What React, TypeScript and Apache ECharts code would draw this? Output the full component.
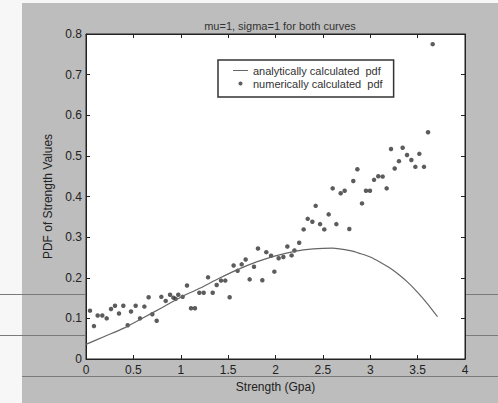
import React, { useEffect, useRef } from "react";
import * as echarts from "echarts";

const titleText = "mu=1, sigma=1 for both curves";
const xAxisName = "Strength (Gpa)";
const yAxisName = "PDF of Strength Values";
const seriesNames = ["analytically calculated  pdf", "numerically calculated  pdf"];

const xMin = 0;
const xMax = 4;
const xStep = 0.5;
const yMin = 0;
const yMax = 0.8;
const yStep = 0.1;

// analytic pdf curve
const curveX = [0, 0.2, 0.4, 0.6, 0.8, 1.0, 1.2, 1.4, 1.6, 1.8, 2.0, 2.2, 2.4, 2.6, 2.8, 2.9, 3.0, 3.1, 3.2, 3.3, 3.4, 3.5, 3.6, 3.71];
const curveY = [0.036, 0.056, 0.076, 0.101, 0.126, 0.152, 0.174, 0.198, 0.22, 0.239, 0.254, 0.265, 0.271, 0.273, 0.266, 0.259, 0.251, 0.239, 0.225, 0.208, 0.188, 0.164, 0.137, 0.104];

// numerically calculated pdf points
const scatterX = [
  0.042, 0.084, 0.123, 0.172, 0.218, 0.264, 0.306, 0.348, 0.394, 0.44,
  0.475, 0.524, 0.57, 0.616, 0.661, 0.7, 0.746, 0.795, 0.841, 0.887,
  0.922, 0.946, 0.974, 1.02, 1.066, 1.108, 1.15, 1.196, 1.242, 1.288,
  1.337, 1.379, 1.425, 1.47, 1.516, 1.558, 1.6, 1.643, 1.685, 1.727,
  1.773, 1.815, 1.861, 1.903, 1.953, 1.988, 2.033, 2.083, 2.125, 2.17,
  2.2, 2.25, 2.297, 2.34, 2.389, 2.424, 2.47, 2.515, 2.561, 2.603,
  2.642, 2.688, 2.73, 2.779, 2.821, 2.864, 2.913, 2.955, 2.997, 3.04,
  3.085, 3.131, 3.173, 3.219, 3.258, 3.303, 3.342, 3.388, 3.434, 3.476,
  3.518, 3.567, 3.61, 3.659,
];
const scatterY = [
  0.119, 0.081, 0.107, 0.107, 0.1, 0.123, 0.131, 0.112, 0.131, 0.083,
  0.117, 0.131, 0.1, 0.129, 0.152, 0.11, 0.094, 0.153, 0.143, 0.158,
  0.151, 0.148, 0.158, 0.153, 0.181, 0.125, 0.125, 0.163, 0.163, 0.201,
  0.163, 0.182, 0.193, 0.193, 0.152, 0.23, 0.217, 0.233, 0.245, 0.196,
  0.227, 0.272, 0.194, 0.263, 0.254, 0.215, 0.248, 0.251, 0.277, 0.255,
  0.267, 0.286, 0.319, 0.345, 0.338, 0.377, 0.332, 0.319, 0.356, 0.42,
  0.332, 0.408, 0.414, 0.32, 0.438, 0.467, 0.383, 0.414, 0.414, 0.441,
  0.45, 0.449, 0.42, 0.517, 0.469, 0.487, 0.52, 0.502, 0.49, 0.473,
  0.505, 0.473, 0.558, 0.775,
];

export default function App() {
  const ref = useRef<HTMLDivElement>(null);

  useEffect(() => {
    if (!ref.current) return;
    const chart = echarts.init(ref.current, null, { renderer: "svg" });
    const font = "'Liberation Sans', Arial, Helvetica, sans-serif";
    const ink = "#222";
    const axisCommon = {
      type: "value" as const,
      axisLine: { show: true, onZero: false, lineStyle: { color: ink, width: 1 } },
      axisTick: { show: true, inside: true, length: 4, lineStyle: { color: ink } },
      splitLine: { show: false },
    };
    chart.setOption({
      animation: false,
      backgroundColor: "#bdbdbd",
      textStyle: { fontFamily: font },
      title: {
        text: titleText,
        left: 275,
        top: 15,
        textAlign: "center",
        textStyle: { fontSize: 11, fontWeight: "normal", color: "#333", fontFamily: font },
      },
      grid: {
        left: 86,
        right: 33,
        top: 34,
        bottom: 44,
        show: true,
        backgroundColor: "#ffffff",
        borderColor: ink,
        borderWidth: 1,
      },
      legend: {
        left: 218,
        top: 60,
        orient: "vertical",
        itemWidth: 15,
        itemHeight: 4,
        itemGap: 2,
        padding: [5, 11, 8, 15],
        backgroundColor: "#ffffff",
        borderColor: "#333",
        borderWidth: 1.5,
        borderRadius: 0,
        textStyle: { fontSize: 11, color: "#333", fontFamily: font },
        data: [
          { name: seriesNames[0], icon: "path://M0,0 L15,0 L15,1 L0,1 Z" },
          { name: seriesNames[1], icon: "circle" },
        ],
      },
      xAxis: [
        {
          ...axisCommon,
          min: xMin,
          max: xMax,
          interval: xStep,
          position: "bottom",
          name: xAxisName,
          nameLocation: "middle",
          nameGap: 19,
          nameTextStyle: { fontSize: 12, color: ink, fontFamily: font, verticalAlign: "top" },
          axisLabel: { fontSize: 12, color: ink, margin: 5, fontFamily: font },
        },
        {
          ...axisCommon,
          min: xMin,
          max: xMax,
          interval: xStep,
          position: "top",
          axisLabel: { show: false },
        },
      ],
      yAxis: [
        {
          ...axisCommon,
          min: yMin,
          max: yMax,
          interval: yStep,
          position: "left",
          name: yAxisName,
          nameLocation: "middle",
          nameGap: 29,
          nameTextStyle: { fontSize: 12, color: ink, fontFamily: font },
          axisLabel: {
            fontSize: 12,
            color: ink,
            margin: 4,
            fontFamily: font,
            formatter: (v: number) => (v === 0 ? "0" : v.toFixed(1)),
          },
        },
        {
          ...axisCommon,
          min: yMin,
          max: yMax,
          interval: yStep,
          position: "right",
          axisLabel: { show: false },
        },
      ],
      series: [
        {
          type: "line",
          name: seriesNames[0],
          xAxisIndex: 0,
          yAxisIndex: 0,
          data: curveX.map((x, i) => [x, curveY[i]]),
          symbol: "none",
          smooth: 0.2,
          lineStyle: { color: "#666", width: 1.2 },
          itemStyle: { color: "#666" },
        },
        {
          type: "scatter",
          name: seriesNames[1],
          xAxisIndex: 0,
          yAxisIndex: 0,
          data: scatterX.map((x, i) => [x, scatterY[i]]),
          symbol: "circle",
          symbolSize: 4.5,
          itemStyle: { color: "#333" },
        },
      ],
      graphic: [
        { type: "rect", left: 0, top: 0, z: -10, shape: { width: 22, height: 403 }, style: { fill: "#f7f7f7" } },
        { type: "rect", left: 0, top: 0, z: -10, shape: { width: 498, height: 3 }, style: { fill: "#f7f7f7" } },
        { type: "line", z: -5, shape: { x1: 0, y1: 294.5, x2: 85, y2: 294.5 }, style: { stroke: "#7a7a7a", lineWidth: 1 } },
        { type: "line", z: -5, shape: { x1: 466, y1: 294.5, x2: 498, y2: 294.5 }, style: { stroke: "#7a7a7a", lineWidth: 1 } },
        { type: "line", z: -5, shape: { x1: 0, y1: 335.5, x2: 85, y2: 335.5 }, style: { stroke: "#7a7a7a", lineWidth: 1 } },
        { type: "line", z: -5, shape: { x1: 466, y1: 335.5, x2: 498, y2: 335.5 }, style: { stroke: "#7a7a7a", lineWidth: 1 } },
        { type: "line", z: -5, shape: { x1: 22, y1: 376.5, x2: 498, y2: 376.5 }, style: { stroke: "#7a7a7a", lineWidth: 1 } },
      ],
    });
    return () => chart.dispose();
  }, []);

  return (
    <div
      ref={ref}
      style={{ position: "fixed", left: 0, top: 0, width: 498, height: 403 }}
    />
  );
}
